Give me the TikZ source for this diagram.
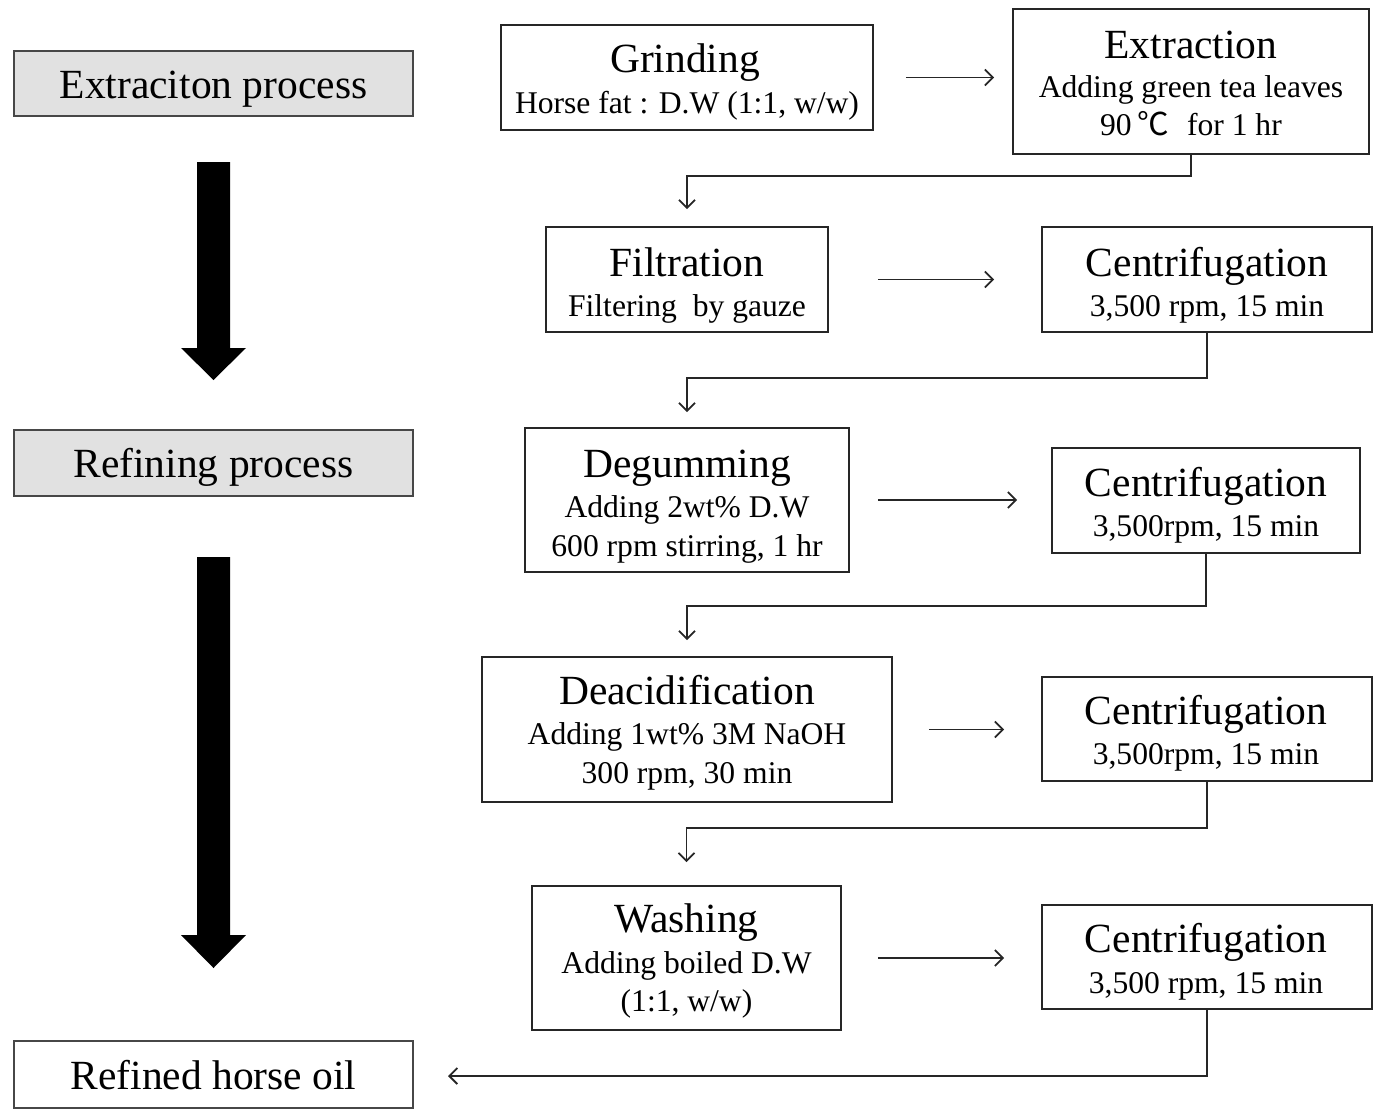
\documentclass[tikz,border=0pt]{standalone}
\usepackage{fontspec}
\setmainfont{Liberation Serif}
\newfontfamily\cjkfont{Noto Sans CJK KR}
\usetikzlibrary{arrows.meta}
\definecolor{boxline}{HTML}{262626}
\definecolor{leftline}{HTML}{474747}
\definecolor{leftfill}{HTML}{E1E1E1}
\newcommand{\tfont}{\fontsize{41.5}{48}\selectfont}
\newcommand{\sfont}{\fontsize{31.6}{38}\selectfont}
\tikzset{
  stepbox/.style={draw=boxline, line width=1.7pt, fill=white, inner sep=0pt},
  phasebox/.style={draw=leftline, line width=2pt, fill=leftfill, inner sep=0pt},
  endbox/.style={draw=leftline, line width=2pt, fill=white, inner sep=0pt},
  ttl/.style={anchor=base, inner sep=0pt, font=\tfont},
  sub/.style={anchor=base, inner sep=0pt, font=\sfont},
  flow/.style={draw=boxline, line width=1.8pt, -{Straight Barb[length=8pt,width=16pt]}},
  bigarrow/.style={fill=black, draw=none}
}
\newcommand{\boxat}[6]{% style, name, x1, y1, x2, y2
  \node[#1, minimum width={#5-#3}, minimum height={#6-#4}] (#2) at ({(#3+#5)/2},{(#4+#6)/2}) {};}
\begin{document}
\begin{tikzpicture}[x=1pt, y=-1pt]
\useasboundingbox (0,0) rectangle (1374,1111);

% left column
\boxat{phasebox}{phase1}{14}{51}{413}{116}
\node[ttl] (phase1t) at (213.5,98) {Extraciton process};
\boxat{phasebox}{phase2}{14}{430}{413}{496}
\node[ttl] (phase2t) at (213.5,477) {Refining process};
\boxat{endbox}{oil}{14}{1041}{413}{1108}
\node[ttl] (oilt) at (213.5,1089) {Refined horse oil};

\fill[bigarrow] (197,162) -- (230,162) -- (230,348) -- (246,348) -- (213.5,380) -- (181,348) -- (197,348) -- cycle;
\fill[bigarrow] (197,557) -- (230,557) -- (230,935) -- (246,935) -- (213.5,968) -- (181,935) -- (197,935) -- cycle;

% process boxes
\boxat{stepbox}{grind}{501}{25}{873}{130}
\node[ttl] (grindt) at (685,72) {Grinding};
\node[sub] (grinds) at (687,113) {Horse fat : D.W (1:1, w/w)};

\boxat{stepbox}{extr}{1013}{9}{1369}{154}
\node[ttl] (extrt) at (1191,58) {Extraction};
\node[sub] (extrs1) at (1191,97) {Adding green tea leaves};
\node[sub] (extrs2) at (1191,135) {90\,{\cjkfont ℃}\,\, for 1 hr};

\boxat{stepbox}{filt}{546}{227}{828}{332}
\node[ttl] (filtt) at (687,276) {Filtration};
\node[sub] (filts) at (687,316) {Filtering~~by gauze};

\boxat{stepbox}{cent1}{1042}{227}{1372}{332}
\node[ttl] (cent1t) at (1207,276) {Centrifugation};
\node[sub] (cent1s) at (1207,316) {3,500 rpm, 15 min};

\boxat{stepbox}{degum}{525}{428}{849}{572}
\node[ttl] (degumt) at (687,477) {Degumming};
\node[sub] (degums1) at (687,517) {Adding 2wt\% D.W};
\node[sub] (degums2) at (687,556) {600 rpm stirring, 1 hr};

\boxat{stepbox}{cent2}{1052}{448}{1360}{553}
\node[ttl] (cent2t) at (1206,496) {Centrifugation};
\node[sub] (cent2s) at (1206,536) {3,500rpm, 15 min};

\boxat{stepbox}{deacid}{482}{657}{892}{802}
\node[ttl] (deacidt) at (687,704) {Deacidification};
\node[sub] (deacids1) at (687,744) {Adding 1wt\% 3M NaOH};
\node[sub] (deacids2) at (687,783) {300 rpm, 30 min};

\boxat{stepbox}{cent3}{1042}{677}{1372}{781}
\node[ttl] (cent3t) at (1206,724) {Centrifugation};
\node[sub] (cent3s) at (1206,764) {3,500rpm, 15 min};

\boxat{stepbox}{wash}{532}{886}{841}{1030}
\node[ttl] (washt) at (686.5,932) {Washing};
\node[sub] (washs1) at (686.5,973) {Adding boiled D.W};
\node[sub] (washs2) at (686.5,1011) {(1:1, w/w)};

\boxat{stepbox}{cent4}{1042}{905}{1372}{1009}
\node[ttl] (cent4t) at (1206,952) {Centrifugation};
\node[sub] (cent4s) at (1206,993) {3,500 rpm, 15 min};

% horizontal arrows
\draw[flow, shorten <=32pt, shorten >=18pt] (grind.east) -- (grind.east -| extr.west);
\draw[flow, shorten <=49pt, shorten >=47pt] (filt.east) -- (filt.east -| cent1.west);
\draw[flow, shorten <=28pt, shorten >=34pt] (degum.east) -- (degum.east -| cent2.west);
\draw[flow, shorten <=36pt, shorten >=37pt] (deacid.east) -- (deacid.east -| cent3.west);
\draw[flow, shorten <=36pt, shorten >=37pt] (wash.east) -- (wash.east -| cent4.west);

% elbow connectors
\draw[flow] (extr.south) -- ++(0,21) -| ([yshift=17pt]filt.north);
\draw[flow] (cent1.south) -- ++(0,45) -| ([yshift=15pt]degum.north);
\draw[flow] (cent2.south) -- ++(0,52) -| ([yshift=16pt]deacid.north);
\draw[flow] (cent3.south) -- ++(0,46) -| ([yshift=23pt]wash.north);
\draw[flow] (cent4.south) |- ([xshift=34pt,yshift=-1.5pt]oil.east);
\end{tikzpicture}
\end{document}
